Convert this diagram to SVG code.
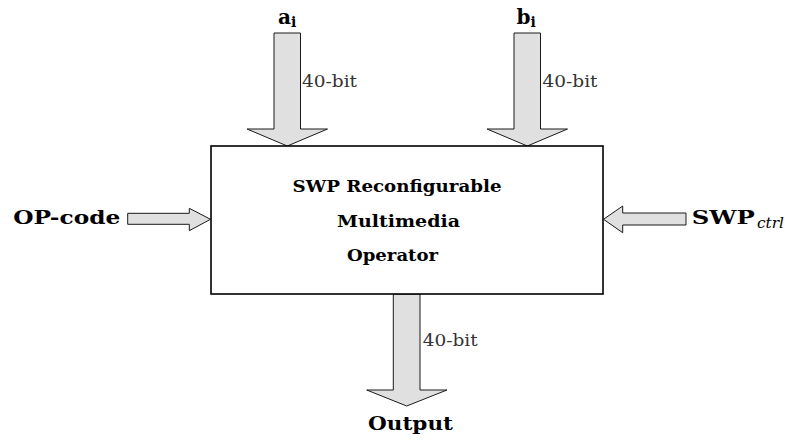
<svg xmlns="http://www.w3.org/2000/svg" width="785" height="441" viewBox="0 0 785 441">
<style>
.arrow{fill:#e0e0e0;stroke:#1a1a1a;stroke-width:1;stroke-linejoin:miter}
.box{fill:#ffffff;stroke:#000000;stroke-width:1.6}
text{font-family:'DejaVu Serif',serif}
.lbl{font-weight:bold;fill:#000}
.bw{font-size:16px;fill:#333}
.sub{font-weight:bold;font-size:14px}
.it{font-style:italic;font-size:14px;fill:#000}
.t{font-weight:bold;font-size:16px;fill:#000;text-anchor:middle}
</style>
<rect width="785" height="441" fill="#ffffff"/>
<g id="connectors">
<polygon class="arrow" points="274,33 300.5,33 300.5,129 327.5,129 287.3,146 247,129 274,129"/>
<polygon class="arrow" points="514,33 540.5,33 540.5,129 567.5,129 527.3,146 487,129 514,129"/>
<polygon class="arrow" points="393.3,294 420,294 420,390 447,390 406.7,406 366.7,390 393.3,390"/>
<polygon class="arrow" points="127.7,213.3 189.3,213.3 189.3,208.3 210.5,219.3 189.3,230.7 189.3,224.3 127.7,224.3"/>
<polygon class="arrow" points="686,213 622.7,213 622.7,206 603.5,219.3 622.7,232.7 622.7,225 686,225"/>
</g>
<g id="operator">
<rect class="box" x="211" y="146" width="392" height="148"/>
<text class="t" x="397" y="192" textLength="209" lengthAdjust="spacingAndGlyphs">SWP Reconfigurable</text>
<text class="t" x="398.5" y="227" textLength="123" lengthAdjust="spacingAndGlyphs">Multimedia</text>
<text class="t" x="392.5" y="261" textLength="91" lengthAdjust="spacingAndGlyphs">Operator</text>
</g>
<g id="input-a">
<text class="lbl" x="278" y="24" font-size="20">a<tspan class="sub" dy="3">i</tspan></text>
<text class="bw" x="302" y="87" textLength="55" lengthAdjust="spacingAndGlyphs">40-bit</text>
</g>
<g id="input-b">
<text class="lbl" x="516.5" y="24" font-size="20">b<tspan class="sub" dy="3">i</tspan></text>
<text class="bw" x="542.5" y="87" textLength="55" lengthAdjust="spacingAndGlyphs">40-bit</text>
</g>
<g id="opcode">
<text class="lbl" x="13.3" y="224.3" font-size="19" textLength="107" lengthAdjust="spacingAndGlyphs">OP-code</text>
</g>
<g id="swpctrl">
<text class="lbl" x="691.7" y="224.3" font-size="19" textLength="63" lengthAdjust="spacingAndGlyphs">SWP</text>
<text class="it" x="757" y="228.3" textLength="27" lengthAdjust="spacingAndGlyphs">ctrl</text>
</g>
<g id="output">
<text class="bw" x="422.7" y="346" textLength="55" lengthAdjust="spacingAndGlyphs">40-bit</text>
<text class="lbl" x="368" y="430" font-size="19" textLength="85" lengthAdjust="spacingAndGlyphs">Output</text>
</g>
</svg>
